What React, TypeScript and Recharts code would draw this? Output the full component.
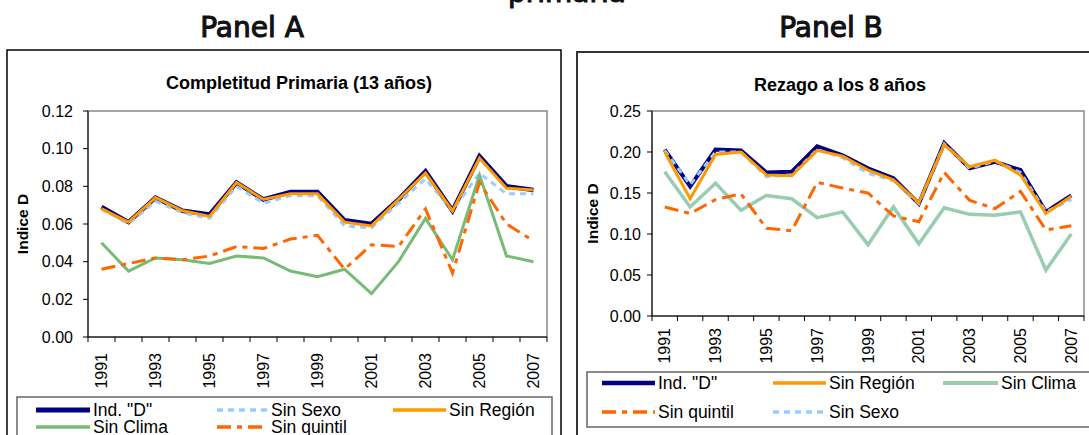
import React from "react";
import { LineChart, Line, XAxis, YAxis } from "recharts";

const FONT = "Arial, 'Liberation Sans', sans-serif";
const HEAD_FONT = "'DejaVu Sans', sans-serif";

const years = [
  "1991", "1992", "1993", "1994", "1995", "1996", "1997", "1998", "1999",
  "2000", "2001", "2002", "2003", "2004", "2005", "2006", "2007",
];

// Panel A - Completitud Primaria (13 años)
const aIndD = [0.069, 0.061, 0.074, 0.067, 0.065, 0.082, 0.073, 0.077, 0.077, 0.062, 0.060, 0.073, 0.088, 0.067, 0.096, 0.080, 0.078];
const aSinSexo = [0.068, 0.060, 0.072, 0.066, 0.063, 0.080, 0.071, 0.075, 0.075, 0.059, 0.058, 0.071, 0.084, 0.067, 0.087, 0.076, 0.076];
const aSinRegion = [0.068, 0.061, 0.074, 0.067, 0.064, 0.082, 0.073, 0.076, 0.076, 0.061, 0.059, 0.073, 0.087, 0.067, 0.095, 0.079, 0.078];
const aSinClima = [0.050, 0.035, 0.042, 0.041, 0.039, 0.043, 0.042, 0.035, 0.032, 0.036, 0.023, 0.040, 0.063, 0.041, 0.086, 0.043, 0.040];
const aSinQuintil = [0.036, 0.039, 0.042, 0.041, 0.043, 0.048, 0.047, 0.052, 0.054, 0.036, 0.049, 0.048, 0.068, 0.034, 0.082, 0.060, 0.051];
const aTicks = [0, 0.02, 0.04, 0.06, 0.08, 0.1, 0.12];

// Panel B - Rezago a los 8 años
const bIndD = [0.203, 0.158, 0.203, 0.202, 0.175, 0.176, 0.207, 0.196, 0.180, 0.168, 0.137, 0.211, 0.180, 0.188, 0.178, 0.127, 0.147];
const bSinRegion = [0.200, 0.143, 0.197, 0.200, 0.172, 0.171, 0.202, 0.195, 0.178, 0.166, 0.138, 0.209, 0.182, 0.190, 0.172, 0.125, 0.146];
const bSinClima = [0.176, 0.133, 0.162, 0.129, 0.147, 0.143, 0.120, 0.127, 0.087, 0.133, 0.088, 0.132, 0.124, 0.123, 0.127, 0.056, 0.100];
const bSinQuintil = [0.133, 0.125, 0.142, 0.149, 0.107, 0.104, 0.163, 0.156, 0.150, 0.122, 0.115, 0.175, 0.141, 0.131, 0.152, 0.105, 0.110];
const bSinSexo = [0.202, 0.160, 0.200, 0.200, 0.170, 0.172, 0.203, 0.193, 0.174, 0.165, 0.137, 0.210, 0.180, 0.189, 0.175, 0.127, 0.142];
const bTicks = [0, 0.05, 0.1, 0.15, 0.2, 0.25];

const dataA = years.map((y, i) => ({
  year: y,
  indD: aIndD[i],
  sinSexo: aSinSexo[i],
  sinRegion: aSinRegion[i],
  sinClima: aSinClima[i],
  sinQuintil: aSinQuintil[i],
}));

const dataB = years.map((y, i) => ({
  year: y,
  indD: bIndD[i],
  sinRegion: bSinRegion[i],
  sinClima: bSinClima[i],
  sinQuintil: bSinQuintil[i],
  sinSexo: bSinSexo[i],
}));

type Style = { name: string; color: string; width: number; dash?: string };

const stylesA: Record<string, Style> = {
  indD: { name: 'Ind. "D"', color: "#000080", width: 4.5 },
  sinSexo: { name: "Sin Sexo", color: "#99CCFF", width: 3, dash: "6 5" },
  sinRegion: { name: "Sin Región", color: "#FF9900", width: 3 },
  sinClima: { name: "Sin Clima", color: "#77BB77", width: 3 },
  sinQuintil: { name: "Sin quintil", color: "#FF6600", width: 3, dash: "14 6 5 6" },
};

const stylesB: Record<string, Style> = {
  ...stylesA,
  indD: { name: 'Ind. "D"', color: "#000080", width: 4 },
  sinClima: { name: "Sin Clima", color: "#99CCB0", width: 3.5 },
};

function yearTick(bw: number, gap: number) {
  return (props: any) => {
    const { x, y, payload } = props;
    const yr = Number(payload.value);
    const last = payload.value === years[years.length - 1];
    return (
      <g>
        <line x1={x - bw / 2} x2={x - bw / 2} y1={y} y2={y + 5} stroke="#000" />
        {last && <line x1={x + bw / 2} x2={x + bw / 2} y1={y} y2={y + 5} stroke="#000" />}
        {yr % 2 === 1 && (
          <text
            x={x}
            y={y + gap}
            transform={`rotate(-90 ${x} ${y + gap})`}
            textAnchor="end"
            dy="0.35em"
            fontSize={16}
            fontFamily={FONT}
            fill="#000"
          >
            {payload.value}
          </text>
        )}
      </g>
    );
  };
}

type PanelProps = {
  left: number;
  width: number;
  data: any[];
  order: string[];
  styles: Record<string, Style>;
  ticks: number[];
  plotTop: number;
  plotBottom: number;
  plotLeft: number;
  plotRight: number;
  tickMargin: number;
  labelGap: number;
};

function Panel(p: PanelProps) {
  const height = 435;
  const bw = (p.plotRight - p.plotLeft) / years.length;
  const xh = 30;
  return (
    <div style={{ position: "absolute", left: p.left, top: 0 }}>
      <LineChart
        width={p.width}
        height={height}
        data={p.data}
        margin={{
          top: p.plotTop,
          right: p.left + p.width - p.plotRight,
          bottom: height - p.plotBottom - xh,
          left: 0,
        }}
      >
        <XAxis
          dataKey="year"
          interval={0}
          height={xh}
          padding={{ left: bw / 2, right: bw / 2 }}
          axisLine={{ stroke: "#000" }}
          tickLine={false}
          tickSize={0}
          tickMargin={0}
          tick={yearTick(bw, p.labelGap)}
        />
        <YAxis
          width={p.plotLeft - p.left}
          domain={[p.ticks[0], p.ticks[p.ticks.length - 1]]}
          ticks={p.ticks}
          interval={0}
          tickFormatter={(v: number) => v.toFixed(2)}
          axisLine={{ stroke: "#000" }}
          tickLine={{ stroke: "#000" }}
          tickSize={5}
          tickMargin={p.tickMargin}
          tick={{ fontSize: 16, fill: "#000", fontFamily: FONT }}
          label={{
            value: "Indice D",
            angle: -90,
            position: "insideLeft",
            offset: 22,
            style: { textAnchor: "middle", fontWeight: "bold", fontSize: 15.5, fill: "#000", fontFamily: FONT },
          }}
        />
        {p.order.map((k) => (
          <Line
            key={k}
            type="linear"
            dataKey={k}
            name={p.styles[k].name}
            stroke={p.styles[k].color}
            strokeWidth={p.styles[k].width}
            strokeDasharray={p.styles[k].dash}
            dot={false}
            activeDot={false}
            isAnimationActive={false}
          />
        ))}
      </LineChart>
    </div>
  );
}

function LegendItems({
  styles,
  items,
}: {
  styles: Record<string, Style>;
  items: { key: string; x1: number; x2: number; y: number }[];
}) {
  return (
    <>
      {items.map((it) => {
        const s = styles[it.key];
        return (
          <g key={it.key}>
            <line
              x1={it.x1}
              x2={it.x2}
              y1={it.y}
              y2={it.y}
              stroke={s.color}
              strokeWidth={s.width + 0.5}
              strokeDasharray={s.dash}
            />
            <text x={it.x2 + 3} y={it.y + 6} fontSize={17.5} fontFamily={FONT} fill="#000">
              {s.name}
            </text>
          </g>
        );
      })}
    </>
  );
}

const headStyle = {
  fontSize: 28,
  fontFamily: HEAD_FONT,
  fill: "#111",
  stroke: "#111",
  strokeWidth: 1.1,
};

export default function App() {
  return (
    <div style={{ position: "absolute", left: 0, top: 0, width: 1089, height: 435, overflow: "hidden", background: "#fff" }}>
      <svg width={1089} height={435} style={{ position: "absolute", left: 0, top: 0 }}>
        <text x={567} y={2} textAnchor="middle" {...headStyle}>
          primaria
        </text>
        <text x={252} y={37} textAnchor="middle" {...headStyle}>
          Panel A
        </text>
        <text x={831} y={37} textAnchor="middle" {...headStyle}>
          Panel B
        </text>
        <rect x={7} y={50} width={554} height={420} fill="none" stroke="#000" strokeWidth={1.5} />
        <rect x={577} y={52} width={540} height={420} fill="none" stroke="#333" strokeWidth={2} />
        <text x={299} y={89} textAnchor="middle" fontSize={18} fontWeight="bold" fontFamily={FONT}>
          Completitud Primaria (13 años)
        </text>
        <text x={840} y={91} textAnchor="middle" fontSize={18} fontWeight="bold" fontFamily={FONT}>
          Rezago a los 8 años
        </text>
        <rect x={88} y={111} width={459} height={226} fill="none" stroke="#888" strokeWidth={1.5} />
        <rect x={652} y={111} width={432} height={205} fill="none" stroke="#888" strokeWidth={1.5} />
        <rect x={17} y={397} width={535} height={60} fill="none" stroke="#666" strokeWidth={1.5} />
        <rect x={587} y={372} width={520} height={55} fill="none" stroke="#666" strokeWidth={1.5} />
        <LegendItems
          styles={stylesA}
          items={[
            { key: "indD", x1: 36, x2: 90, y: 410 },
            { key: "sinSexo", x1: 217, x2: 268, y: 410 },
            { key: "sinRegion", x1: 393, x2: 446, y: 410 },
            { key: "sinClima", x1: 36, x2: 90, y: 427 },
            { key: "sinQuintil", x1: 217, x2: 268, y: 427 },
          ]}
        />
        <LegendItems
          styles={stylesB}
          items={[
            { key: "indD", x1: 602, x2: 655, y: 383 },
            { key: "sinRegion", x1: 773, x2: 826, y: 383 },
            { key: "sinClima", x1: 943, x2: 998, y: 383 },
            { key: "sinQuintil", x1: 602, x2: 655, y: 412 },
            { key: "sinSexo", x1: 773, x2: 826, y: 412 },
          ]}
        />
      </svg>
      <Panel
        left={0}
        width={560}
        data={dataA}
        order={["indD", "sinSexo", "sinRegion", "sinClima", "sinQuintil"]}
        styles={stylesA}
        ticks={aTicks}
        plotTop={111}
        plotBottom={337}
        plotLeft={88}
        plotRight={547}
        tickMargin={10}
        labelGap={16}
      />
      <Panel
        left={570}
        width={519}
        data={dataB}
        order={["indD", "sinSexo", "sinRegion", "sinClima", "sinQuintil"]}
        styles={stylesB}
        ticks={bTicks}
        plotTop={111}
        plotBottom={316}
        plotLeft={652}
        plotRight={1084}
        tickMargin={6}
        labelGap={12}
      />
    </div>
  );
}
